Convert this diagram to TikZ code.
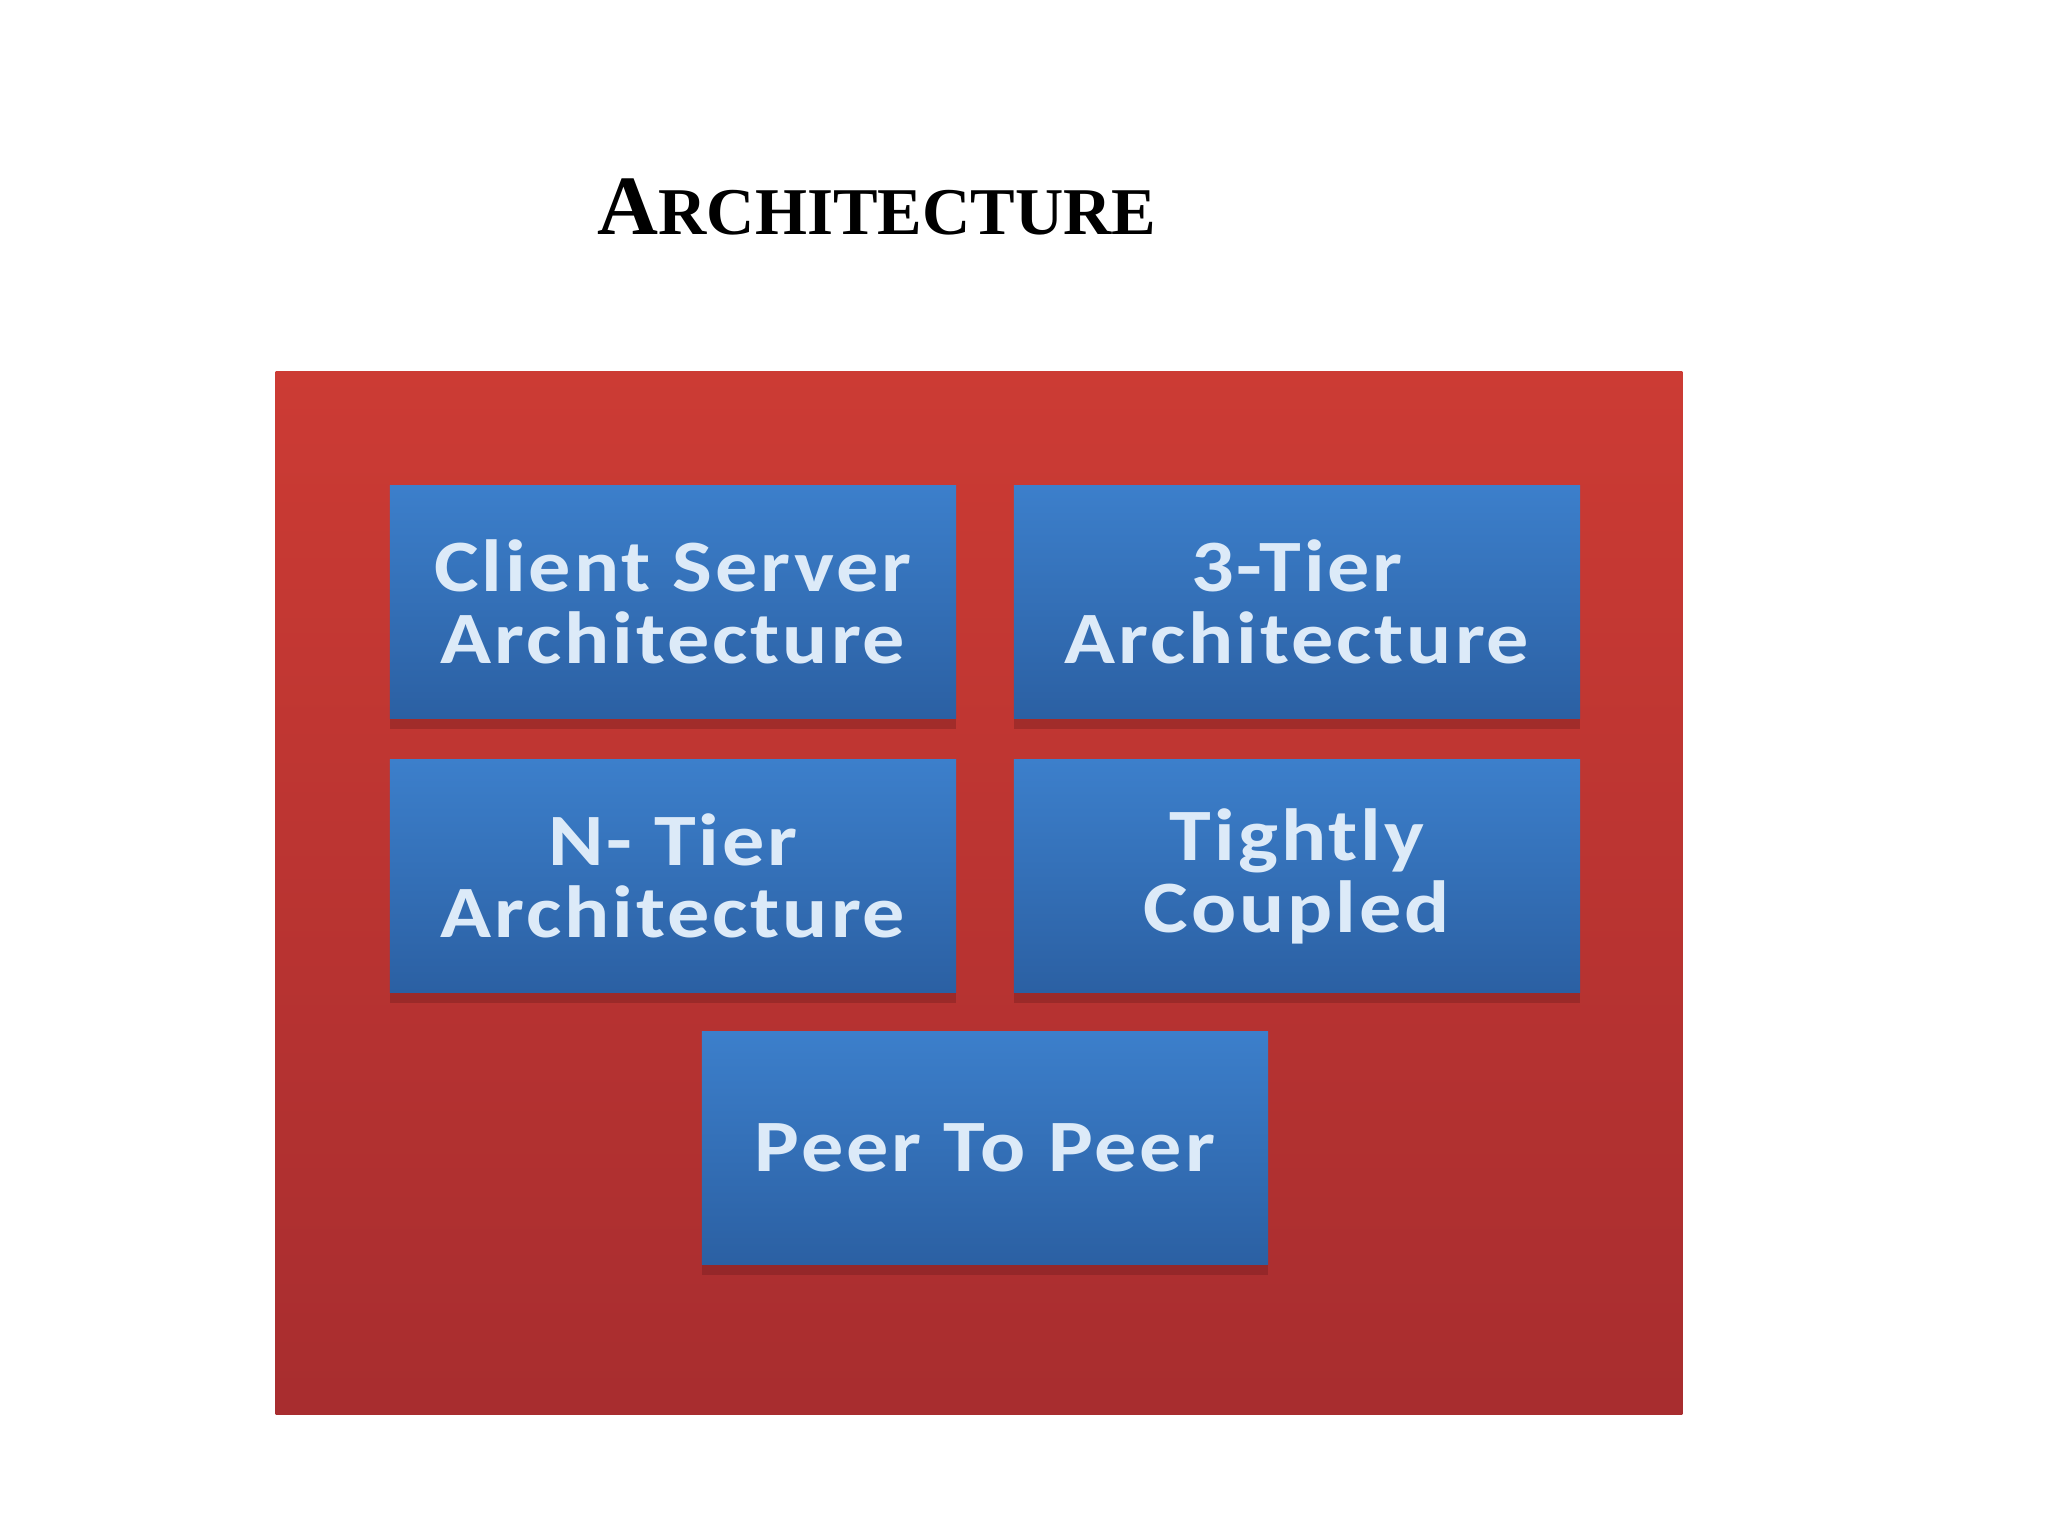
\documentclass[tikz,border=0pt]{standalone}
\usepackage{fontspec}
\setmainfont{Liberation Serif}
\newfontfamily\boxfont[FakeStretch=1.14,LetterSpace=4]{Carlito}
\usetikzlibrary{shadows}
\definecolor{redtop}{HTML}{CC3B34}
\definecolor{redbot}{HTML}{A82D2F}
\definecolor{bluetop}{HTML}{3C7FCB}
\definecolor{bluebot}{HTML}{2B60A3}
\definecolor{boxtext}{HTML}{DCEAF8}
\definecolor{shadowcol}{HTML}{6A1A1C}
\tikzset{
  itembox/.style={rectangle, minimum width=5.66cm, minimum height=2.32cm,
    top color=bluetop, bottom color=bluebot, draw=none,
    text=boxtext, align=center,
    font=\boxfont\bfseries\fontsize{21}{20.5}\selectfont,
    drop shadow={shadow xshift=0pt, shadow yshift=-3pt, fill=shadowcol, opacity=0.35}},
  panel/.style={rectangle, top color=redtop, bottom color=redbot, draw=none}
}
\begin{document}
\begin{tikzpicture}[x=0.01cm,y=-0.01cm]
\useasboundingbox (0,0) rectangle (2048,1536);
\fill[white] (0,0) rectangle (2048,1536);
\node[font=\bfseries, anchor=base] (title) at (877,234)
  {{\fontsize{24}{24}\selectfont A}{\fontsize{19}{19}\selectfont RCHITECTURE}};
\node[panel, minimum width=14.06cm, minimum height=10.42cm] (panel) at (979,893) {};
\node[itembox] (cs) at (673,602) {Client Server\\Architecture};
\node[itembox] (t3) at (1297,602) {3-Tier\\Architecture};
\node[itembox] (nt) at (673,876) {N- Tier\\Architecture};
\node[itembox] (tc) at (1297,876) {Tightly\\Coupled};
\node[itembox] (pp) at (985,1148) {Peer To Peer};
\end{tikzpicture}
\end{document}
